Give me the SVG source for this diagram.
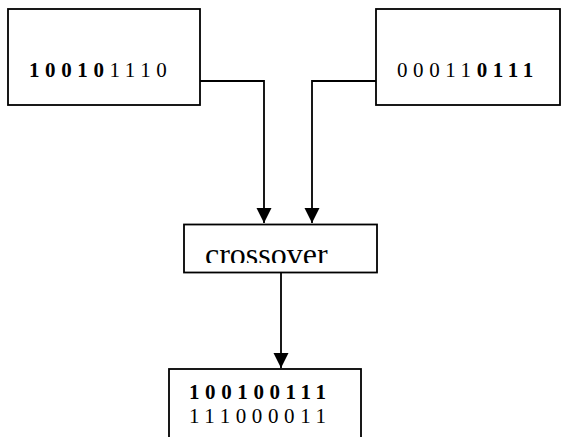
<svg xmlns="http://www.w3.org/2000/svg" width="562" height="437" viewBox="0 0 562 437">
  <style>
    .box { fill: #ffffff; stroke: #000000; stroke-width: 1.8; }
    .wire { fill: none; stroke: #000000; stroke-width: 1.8; }
    .bits { font-family: "Liberation Serif", "Times New Roman", serif; font-size: 21px; fill: #000000; letter-spacing: 5.6px; }
    .b { font-weight: bold; }
    .label { font-family: "Liberation Serif", "Times New Roman", serif; font-size: 32px; fill: #000000; }
  </style>
  <defs>
    <marker id="arrow" markerUnits="userSpaceOnUse" markerWidth="15" markerHeight="16" refX="15" refY="7.5" orient="auto">
      <path d="M0,0 L15,7.5 L0,15 Z" fill="#000000"/>
    </marker>
    <clipPath id="crossClip">
      <rect x="185" y="226" width="191" height="37"/>
    </clipPath>
  </defs>

  <!-- connectors -->
  <g id="connectors">
    <path class="wire" d="M200,81 H264 V223" marker-end="url(#arrow)"/>
    <path class="wire" d="M376,81 H312 V223" marker-end="url(#arrow)"/>
    <path class="wire" d="M281,272.5 V368" marker-end="url(#arrow)"/>
  </g>

  <!-- parent 1 -->
  <g id="parent1">
    <rect class="box" x="8" y="9" width="192" height="96"/>
    <text class="bits" x="29" y="77"><tspan class="b">10010</tspan>1110</text>
  </g>

  <!-- parent 2 -->
  <g id="parent2">
    <rect class="box" x="376" y="9" width="184" height="96"/>
    <text class="bits" x="397" y="77">00011<tspan class="b">0111</tspan></text>
  </g>

  <!-- crossover operator -->
  <g id="crossover">
    <rect class="box" x="184" y="224.5" width="193" height="48"/>
    <text class="label" x="205" y="265" clip-path="url(#crossClip)">crossover</text>
  </g>

  <!-- offspring -->
  <g id="offspring">
    <rect class="box" x="169" y="369" width="192" height="80"/>
    <text class="bits b" x="189" y="399">100100111</text>
    <text class="bits" x="189" y="423">111000011</text>
  </g>
</svg>
